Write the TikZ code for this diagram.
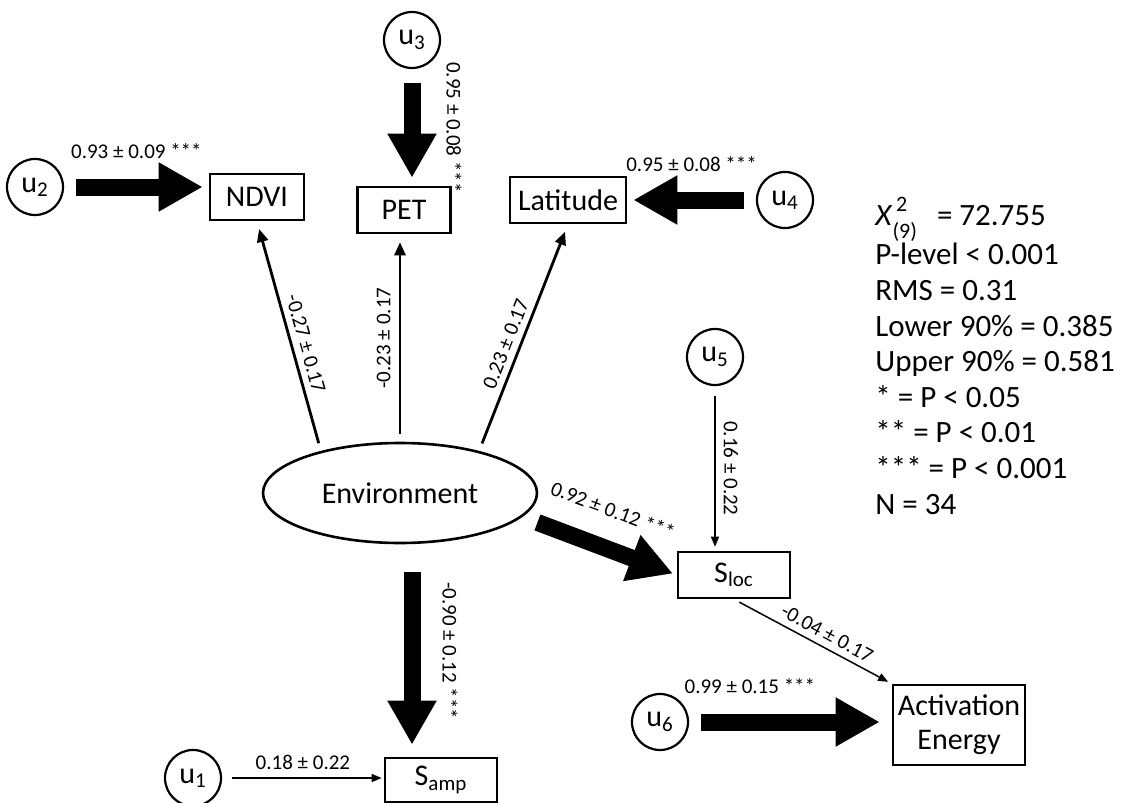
\documentclass[tikz,border=0pt]{standalone}
\usepackage{fontspec}
\setmainfont{Carlito}
\usepackage{tikz}
\usetikzlibrary{arrows.meta,shapes.geometric,calc,positioning}

\begin{document}
\begin{tikzpicture}[x=0.5pt,y=-0.5pt,
  box/.style={draw,line width=1.3pt,inner sep=0pt,minimum height=23pt,font=\fontsize{15}{17}\selectfont},
  err/.style={draw,circle,line width=1.1pt,inner sep=0pt,minimum size=28pt,font=\fontsize{15}{17}\selectfont},
  link/.style={line width=1.4pt,-{Triangle[length=6.5pt,width=5.5pt]}},
  weak/.style={line width=0.75pt,-{Triangle[length=5pt,width=4pt]}},
  fat/.style={line width=8.5pt,-{Triangle[length=22pt,width=23pt]}},
  coef/.style={font=\fontsize{10.5}{12}\selectfont,inner sep=1pt}]
  \useasboundingbox (0,0) rectangle (1131,803);
  % error terms
  \node[err] (u1) at (193,778) {u\textsubscript{1}};
  \node[err] (u2) at (35,187) {u\textsubscript{2}};
  \node[err] (u3) at (412,40) {u\textsubscript{3}};
  \node[err] (u4) at (785,200) {u\textsubscript{4}};
  \node[err] (u5) at (715,357) {u\textsubscript{5}};
  \node[err] (u6) at (660,722) {u\textsubscript{6}};
  % observed variables
  \node[box,minimum width=47pt] (ndvi) at (257,197) {NDVI};
  \node[box,minimum width=46.5pt] (pet) at (404,210) {PET};
  \node[box,minimum width=58pt] (lat) at (568,200) {Latitude};
  \node[box,minimum width=56pt] (sloc) at (734,575) {S\textsubscript{loc}};
  \node[box,minimum width=56pt,minimum height=22pt] (samp) at (441,780) {S\textsubscript{amp}};
  \node[box,minimum width=66pt,minimum height=40pt,align=center] (act) at (959,725) {Activation\\Energy};
  % latent variable
  \node[draw,ellipse,line width=1.3pt,minimum width=137pt,minimum height=50pt,
    font=\fontsize{15}{17}\selectfont] (env) at (400,493) {Environment};
  % residual paths
  \draw[fat,shorten <=7pt,shorten >=4pt] (u3) -- (u3 |- pet.north)
    node[midway,sloped,above=12pt,coef] {0.95 ± 0.08 ***};
  \draw[fat,shorten <=6pt,shorten >=3pt] (u2) -- (u2 -| ndvi.west)
    node[midway,above=9pt,coef] {0.93 ± 0.09 ***};
  \draw[fat,shorten <=6pt,shorten >=3pt] (u4) -- (u4 -| lat.east)
    node[midway,above=9pt,coef] {0.95 ± 0.08 ***};
  \draw[fat,shorten <=6pt,shorten >=6pt] (u6) -- (u6 -| act.west)
    node[pos=0.3,above=9pt,coef] {0.99 ± 0.15 ***};
  \draw[weak,shorten <=5pt,shorten >=2pt] (u5) -- (u5 |- sloc.north)
    node[midway,sloped,above=3pt,coef] {0.16 ± 0.22};
  \draw[weak,shorten <=5pt,shorten >=1pt] (u1) -- (u1 -| samp.west)
    node[midway,above=3pt,coef] {0.18 ± 0.22};
  % structural paths
  \draw[link,shorten <=4pt,shorten >=4pt] (env.152) -- (ndvi.south)
    node[pos=0.45,sloped,above=2pt,coef] {-0.27 ± 0.17};
  \draw[link,shorten <=4pt,shorten >=4pt] (env.north) -- (env.north |- pet.south)
    node[midway,sloped,above=3pt,coef] {-0.23 ± 0.17};
  \draw[link,shorten <=4pt,shorten >=4pt] (env.28) -- (lat.south)
    node[pos=0.45,sloped,above=2pt,coef] {0.23 ± 0.17};
  \draw[fat,shorten <=8pt,shorten >=2pt] (env.-11) -- (sloc.west)
    node[midway,sloped,above=10pt,coef] {0.92 ± 0.12 ***};
  \draw[fat,shorten <=14pt,shorten >=6pt] ([xshift=6pt]env.south) -- ([xshift=6pt]env.south |- samp.north)
    node[midway,sloped,above=10pt,coef] {-0.90 ± 0.12 ***};
  \draw[weak,shorten <=3pt,shorten >=2pt] (sloc.south) -- (act.north west)
    node[pos=0.55,sloped,above=2pt,coef] {-0.04 ± 0.17};
  % fit statistics
  \node[anchor=north west,align=left,inner sep=0pt,font=\fontsize{15.5}{17.8}\selectfont] (fit) at (875,197)
    {\textit{X}\makebox[0pt][l]{\raisebox{0.9ex}{\fontsize{11}{11}\selectfont\,2}}\raisebox{-0.9ex}{\fontsize{11}{11}\selectfont (9)}\hspace{10pt}= 72.755\\
     P-level < 0.001\\
     RMS = 0.31\\
     Lower 90\% = 0.385\\
     Upper 90\% = 0.581\\
     * = P < 0.05\\
     ** = P < 0.01\\
     *** = P < 0.001\\
     N = 34};
\end{tikzpicture}
\end{document}
